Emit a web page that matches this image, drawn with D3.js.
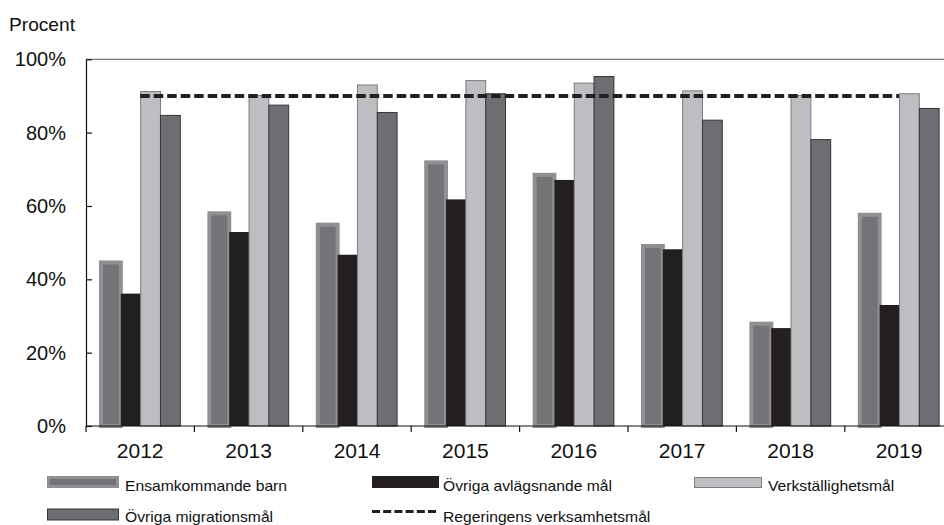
<!DOCTYPE html>
<html>
<head>
<meta charset="utf-8">
<script src="https://cdn.jsdelivr.net/npm/d3@7/dist/d3.min.js"></script>
<style>
  html, body { margin: 0; padding: 0; background: #fff; }
  svg { display: block; font-family: "Liberation Sans", Arial, sans-serif; }
</style>
</head>
<body>
<svg id="chart" width="944" height="525"></svg>
<script>
// Andel avgjorda mål per år och måltyp
const years = ["2012", "2013", "2014", "2015", "2016", "2017", "2018", "2019"];
const ensamkommande = [44.6, 58.0, 54.9, 71.9, 68.5, 49.1, 27.9, 57.6];
const ovrigaAvlagsnande = [36.1, 52.9, 46.7, 61.8, 67.1, 48.2, 26.7, 33.0];
const verkstallighet = [91.2, 90.1, 93.0, 94.2, 93.5, 91.4, 90.1, 90.6];
const ovrigaMigration = [84.7, 87.5, 85.5, 90.6, 95.3, 83.4, 78.1, 86.6];
const verksamhetsmal = 90;
const yTicks = [0, 20, 40, 60, 80, 100];

const seriesNames = ["Ensamkommande barn", "Övriga avlägsnande mål", "Verkställighetsmål", "Övriga migrationsmål"];
const seriesValues = [ensamkommande, ovrigaAvlagsnande, verkstallighet, ovrigaMigration];

const svg = d3.select("#chart");
const plotLeft = 86, plotTop = 59.3, plotBottom = 426;

const x = d3.scaleBand().domain(years).range([plotLeft, plotLeft + 8 * 108.4]).padding(0);
const xs = d3.scaleBand().domain(seriesNames).range([15, 94.3]).padding(0);
const y = d3.scaleLinear().domain([0, 100]).range([plotBottom, plotTop]);

// ram upptill
svg.append("line")
  .attr("x1", plotLeft).attr("x2", 944)
  .attr("y1", y(100)).attr("y2", y(100))
  .attr("stroke", "#7a7a7c").attr("stroke-width", 1.2);

// staplar
const styles = [
  { fill: "#737477", stroke: "#909093", sw: 4 },
  { fill: "#231f20", stroke: "none", sw: 0 },
  { fill: "#bdbec1", stroke: "#7c7d80", sw: 1 },
  { fill: "#6d6e71", stroke: "#363638", sw: 1 }
];

seriesNames.forEach((name, si) => {
  const st = styles[si];
  svg.append("g")
    .selectAll("rect")
    .data(years.map((yr, i) => ({ yr, v: seriesValues[si][i] })))
    .join("rect")
    .attr("x", d => x(d.yr) + xs(name))
    .attr("y", d => y(d.v))
    .attr("width", xs.bandwidth())
    .attr("height", d => y(0) - y(d.v))
    .attr("fill", st.fill)
    .attr("stroke", st.stroke)
    .attr("stroke-width", st.sw);
});

// regeringens verksamhetsmål
svg.append("line")
  .attr("x1", x(years[0]) + x.bandwidth() / 2)
  .attr("x2", x(years[years.length - 1]) + x.bandwidth() / 2)
  .attr("y1", y(verksamhetsmal)).attr("y2", y(verksamhetsmal))
  .attr("stroke", "#231f20").attr("stroke-width", 4)
  .attr("stroke-dasharray", "9.5,4");

// y-axel
const yAxis = d3.axisLeft(y)
  .tickValues(yTicks)
  .tickFormat(d => d + "%")
  .tickSize(-6)
  .tickSizeOuter(0)
  .tickPadding(20);
const gy = svg.append("g").attr("transform", `translate(${plotLeft},0)`).call(yAxis);
gy.select(".domain").attr("stroke", "#111").attr("stroke-width", 1.2);
gy.selectAll(".tick line").attr("stroke", "#111").attr("stroke-width", 1.2);
gy.selectAll(".tick text")
  .attr("fill", "#111")
  .style("font-size", "20px")
  .style("font-family", "\"Liberation Sans\", Arial, sans-serif");

// x-axel
svg.append("line")
  .attr("x1", plotLeft).attr("x2", x.range()[1])
  .attr("y1", y(0)).attr("y2", y(0))
  .attr("stroke", "#111").attr("stroke-width", 1.2);
svg.append("g")
  .selectAll("line")
  .data(years.concat(["end"]))
  .join("line")
  .attr("x1", d => d === "end" ? x.range()[1] : x(d))
  .attr("x2", d => d === "end" ? x.range()[1] : x(d))
  .attr("y1", y(0)).attr("y2", y(0) + 6)
  .attr("stroke", "#111").attr("stroke-width", 1.2);
svg.append("g")
  .selectAll("text")
  .data(years)
  .join("text")
  .attr("x", d => x(d) + x.bandwidth() / 2)
  .attr("y", 458)
  .attr("text-anchor", "middle")
  .attr("fill", "#111")
  .style("font-size", "21px")
  .text(d => d);

// axeltitel
svg.append("text")
  .attr("x", 9).attr("y", 31)
  .attr("fill", "#111")
  .style("font-size", "19px")
  .attr("textLength", 66)
  .attr("lengthAdjust", "spacingAndGlyphs")
  .text("Procent");

// teckenförklaring
const legendItems = [
  { name: seriesNames[0], type: "ens", sx: 47, sy: 476, sw: 72, sh: 12, tx: 125, ty: 491 },
  { name: seriesNames[1], type: "bar", si: 1, sx: 372, sy: 476, sw: 67, sh: 12, tx: 443, ty: 491 },
  { name: seriesNames[2], type: "bar", si: 2, sx: 694, sy: 477, sw: 68, sh: 11, tx: 768, ty: 491 },
  { name: seriesNames[3], type: "bar", si: 3, sx: 47, sy: 508.5, sw: 72, sh: 12, tx: 125, ty: 522 },
  { name: "Regeringens verksamhetsmål", type: "dash", sx: 372, sy: 511.5, sw: 67, tx: 443, ty: 522 }
];

const lg = svg.append("g");
legendItems.forEach(it => {
  if (it.type === "ens") {
    lg.append("rect").attr("x", it.sx).attr("y", it.sy).attr("width", it.sw).attr("height", it.sh)
      .attr("fill", "#909093");
    lg.append("rect").attr("x", it.sx + 3).attr("y", it.sy + 3).attr("width", it.sw - 6).attr("height", it.sh - 6)
      .attr("fill", "#737477");
  } else if (it.type === "bar") {
    const st = styles[it.si];
    lg.append("rect").attr("x", it.sx + 0.5).attr("y", it.sy + 0.5).attr("width", it.sw - 1).attr("height", it.sh - 1)
      .attr("fill", st.fill).attr("stroke", st.stroke === "none" ? st.fill : st.stroke).attr("stroke-width", 1);
  } else {
    lg.append("line").attr("x1", it.sx).attr("x2", it.sx + it.sw)
      .attr("y1", it.sy).attr("y2", it.sy)
      .attr("stroke", "#231f20").attr("stroke-width", 3)
      .attr("stroke-dasharray", "8,3.2");
  }
  lg.append("text")
    .attr("x", it.tx).attr("y", it.ty)
    .attr("fill", "#111")
    .style("font-size", "14px")
    .attr("transform", `translate(${it.tx},0) scale(1.12,1) translate(${-it.tx},0)`)
    .text(it.name);
});
</script>
</body>
</html>
